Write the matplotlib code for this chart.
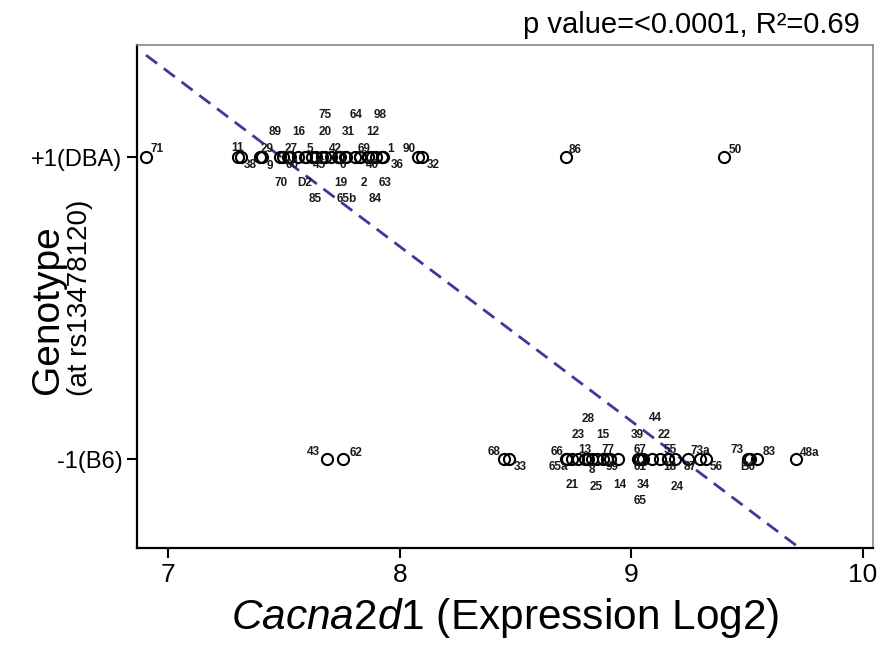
import numpy as np
import matplotlib
matplotlib.use('Agg')
import matplotlib.pyplot as plt

plt.rcParams['font.family'] = ['Liberation Sans', 'DejaVu Sans']
plt.rcParams['mathtext.fontset'] = 'custom'
plt.rcParams['mathtext.rm'] = 'Liberation Sans'
plt.rcParams['mathtext.it'] = 'Liberation Sans:italic'

# strains homozygous DBA at rs13478120 (genotype +1)
dba_strains = ['71', '11', '38', '29', '9', '89', '27', '60', '70', '16', '5', 'D2', '85', '45',
               '20', '75', '42', '6', '19', '31', '65b', '64', '2', '69', '12', '40', '84', '98',
               '63', '1', '36', '90', '32', '86', '50']
dba_expr = [6.905, 7.302, 7.315, 7.406, 7.397, 7.483, 7.518, 7.527, 7.496, 7.561, 7.596, 7.591,
            7.621, 7.639, 7.665, 7.678, 7.703, 7.742, 7.734, 7.768, 7.764, 7.807, 7.829, 7.829,
            7.863, 7.863, 7.880, 7.898, 7.924, 7.924, 7.928, 8.079, 8.096, 8.718, 9.400]

# strains homozygous B6 (genotype -1)
b6_strains = ['43', '62', '68', '33', '66', '65a', '28', '23', '21', '13', '8', '25', '15', '77',
              '99', '14', '39', '67', '61', '34', '65', '44', '22', '55', '18', '24', '87', '73a',
              '56', '73', 'B6', '83', '48a']
b6_expr = [7.686, 7.755, 8.450, 8.472, 8.718, 8.722, 8.813, 8.770, 8.744, 8.800, 8.830, 8.852,
           8.877, 8.895, 8.908, 8.942, 9.028, 9.037, 9.037, 9.050, 9.037, 9.089, 9.123, 9.158,
           9.158, 9.188, 9.244, 9.296, 9.322, 9.503, 9.512, 9.542, 9.710]

genotype_ticks = [1, -1]
genotype_labels = ['+1(DBA)', '-1(B6)']

fit_slope = -1.157
fit_intercept = 9.664
stats_text = 'p value=<0.0001, R\u00b2=0.69'

# label offsets (pixels) so the strain names don't all sit on top of each other
dba_off = [(11, 8), (0, 9), (9, -8), (5, 8), (10, -9), (-5, 25), (3, 8), (2, -8), (-2, -26),
           (1, 25), (4, 8), (0, -26), (3, -42), (3, -8), (3, 25), (0, 42), (4, 8), (3, -8),
           (3, -26), (2, 25), (2, -42), (1, 42), (4, -26), (4, 8), (5, 25), (4, -8), (3, -42),
           (4, 42), (3, -26), (8, 8), (14, -8), (-9, 8), (11, -8), (9, 7), (11, 7)]
b6_off = [(-14, 7), (13, 6), (-10, 7), (11, -8), (-9, 7), (-9, -8), (0, 40), (0, 24), (0, -26),
          (0, 9), (0, -11), (-1, -28), (0, 24), (1, 9), (2, -8), (2, -26), (-1, 24), (0, 9),
          (0, -8), (0, -26), (0, -42), (3, 41), (4, 24), (2, 9), (2, -8), (2, -28), (2, -8),
          (0, 8), (10, -8), (-11, 9), (-2, -8), (12, 7), (14, 6)]

fig = plt.figure(figsize=(8.81, 6.55), dpi=100)
ax = fig.add_axes([137/881, 107/655, 736/881, 503/655])

xs = np.array(dba_expr + b6_expr)
ys = np.array([1]*len(dba_expr) + [-1]*len(b6_expr))
ax.plot(xs, ys, 'o', mfc='none', mec='black', ms=8, mew=1.5, zorder=3)

names = dba_strains + b6_strains
offs = dba_off + b6_off
for x, y, name, (dx, dy) in zip(xs, ys, names, offs):
    ax.annotate(name, (x, y), xytext=(dx, dy), textcoords='offset pixels',
                ha='center', va='center', fontsize=8.5, fontweight='bold', color='#1a1a1a', zorder=4)

lx = np.array([xs.min(), xs.max()])
ax.plot(lx, fit_slope*lx + fit_intercept, ls=(0, (5, 3)), color='#3a3a9c', lw=2, zorder=2)

ax.set_xlim(6.866, 10.043)
ax.set_ylim(-1.589, 1.742)
ax.set_xticks([7, 8, 9, 10])
ax.set_xticklabels(['7', '8', '9', '10'], fontsize=19)
ax.set_yticks(genotype_ticks)
ax.set_yticklabels(genotype_labels, fontsize=17)
ax.tick_params(direction='out', length=7, width=1.5)

for s in ['left', 'bottom']:
    ax.spines[s].set_linewidth(1.6)
    ax.spines[s].set_color('black')
for s in ['top', 'right']:
    ax.spines[s].set_linewidth(1.2)
    ax.spines[s].set_color('#888888')

ax.set_xlabel('$\\it{Cacna2d1}$ (Expression Log2)', fontsize=30.5, labelpad=7)
fig.text(48/881, 1 - 310/655, 'Genotype', rotation=90, fontsize=28, ha='center', va='center')
fig.text(80/881, 1 - 298/655, '(at rs13478120)', rotation=90, fontsize=20, ha='center', va='center')
fig.text(860/881, 1 - 25/655, stats_text, fontsize=21, ha='right', va='center')

fig.savefig('out.png', dpi=100)
